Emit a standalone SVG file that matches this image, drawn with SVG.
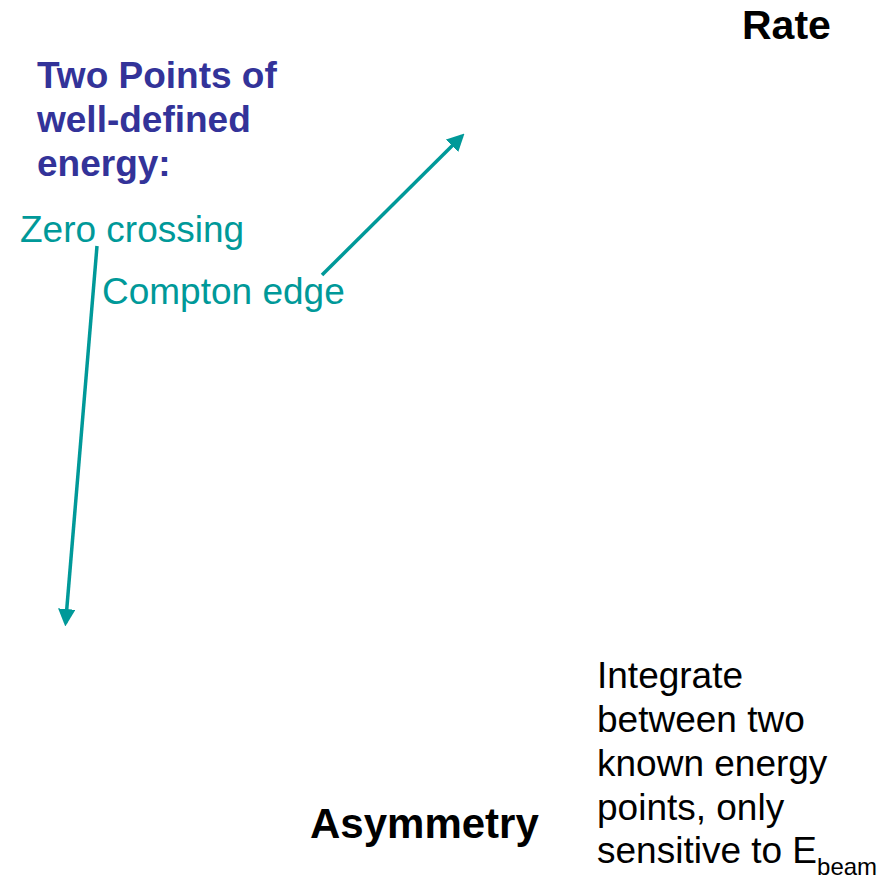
<svg xmlns="http://www.w3.org/2000/svg" width="886" height="879" viewBox="0 0 886 879">
<style>
.t{font-family:"Liberation Sans",Arial,sans-serif}
.b{font-weight:bold}
.blue{fill:#333399;font-size:37px}
.teal{fill:#009999;font-size:37px}
.blk{fill:#000;font-size:37px}
.con{stroke:#009999;stroke-width:3.5;fill:none}
</style>
<defs>
<marker id="ah" markerWidth="5" markerHeight="5" refX="4" refY="2.5" orient="auto" markerUnits="strokeWidth">
<path d="M0,0 L5,2.5 L0,5 Z" fill="#009999"/>
</marker>
</defs>
<rect width="886" height="879" fill="#fff"/>
<g id="rate"><text class="t b blk" x="742" y="39" style="font-size:41px">Rate</text></g>
<g id="two-points"><text class="t b blue">
<tspan x="37" y="88">Two Points of</tspan>
<tspan x="37" y="132">well-defined</tspan>
<tspan x="37" y="176">energy:</tspan>
</text></g>
<g id="zero-crossing"><text class="t teal" x="20" y="242">Zero crossing</text></g>
<g id="compton-edge"><text class="t teal" x="102" y="304">Compton edge</text></g>
<g id="asymmetry"><text class="t b blk" x="310" y="838" style="font-size:42px">Asymmetry</text></g>
<g id="integrate"><text class="t blk">
<tspan x="597" y="688">Integrate</tspan>
<tspan x="597" y="732">between two</tspan>
<tspan x="597" y="776">known energy</tspan>
<tspan x="597" y="820">points, only</tspan>
<tspan x="597" y="863">sensitive to E<tspan dy="12" style="font-size:24px">beam</tspan></tspan>
</text></g>
<g id="connectors">
<line class="con" x1="97" y1="246" x2="65.6" y2="623" marker-end="url(#ah)"/>
<line class="con" x1="322" y1="275" x2="462" y2="136" marker-end="url(#ah)"/>
</g>
</svg>
